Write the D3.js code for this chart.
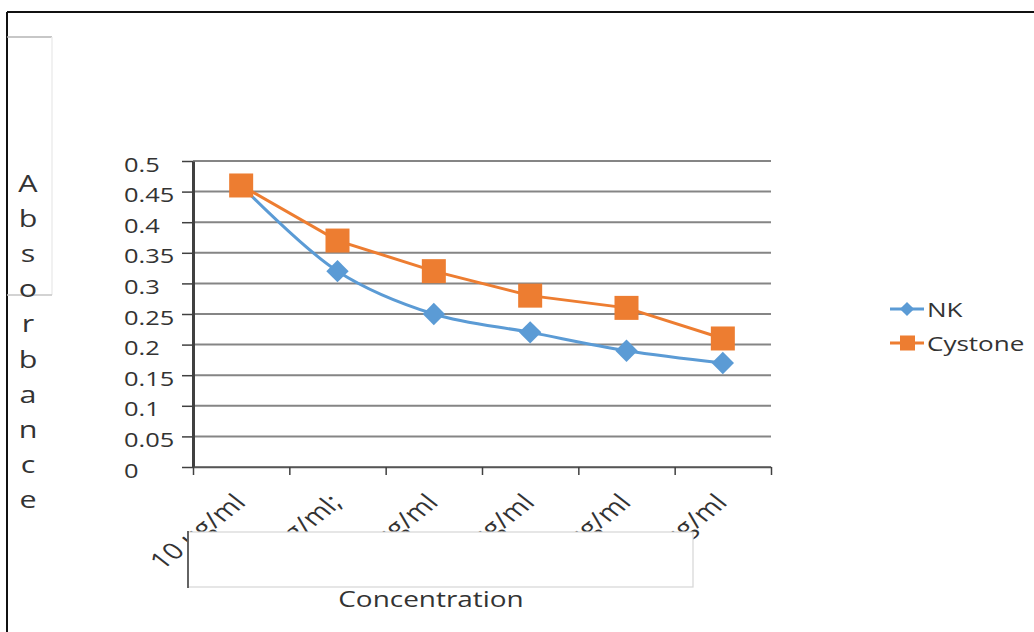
<!DOCTYPE html>
<html>
<head>
<meta charset="utf-8">
<script src="https://cdn.jsdelivr.net/npm/d3@7"></script>
<style>
  html, body { margin: 0; padding: 0; background: #fff; }
  svg { display: block; }
  text { font-family: "Open Sans", "DejaVu Sans", sans-serif; fill: #333; }
</style>
</head>
<body>
<svg id="chart" width="1034" height="632"></svg>
<script>
// Concentration levels on the x axis
const categories = ["10 µg/ml", "20 µg/ml;", "30 µg/ml", "40 µg/ml", "50 µg/ml", "60 µg/ml"];
// Absorbance readings per series
const nkValues = [0.46, 0.32, 0.25, 0.22, 0.19, 0.17];
const cystoneValues = [0.46, 0.37, 0.32, 0.28, 0.26, 0.21];
// Value axis ticks
const yTicks = [0, 0.05, 0.1, 0.15, 0.2, 0.25, 0.3, 0.35, 0.4, 0.45, 0.5];
const yTickLabels = ["0", "0.05", "0.1", "0.15", "0.2", "0.25", "0.3", "0.35", "0.4", "0.45", "0.5"];
const seriesNames = ["NK", "Cystone"];
const yTitle = "Absorbance";
const xTitle = "Concentration";

const SX = 1.27;            // horizontal text stretch
const BLUE = "#5B9BD5", ORANGE = "#ED7D31";

const svg = d3.select("#chart");
const plot = { left: 193, right: 771, top: 161, bottom: 467 };

const x = d3.scaleBand().domain(categories).range([plot.left, plot.right]);
const xEdge = d3.scaleLinear().domain([0, categories.length]).range([plot.left, plot.right]);
const y = d3.scaleLinear().domain([0, 0.5]).range([plot.bottom, plot.top]);
const cx = c => x(c) + x.bandwidth() / 2;

// outer frame (top and left edges)
svg.append("line").attr("x1", 7).attr("x2", 1034).attr("y1", 12).attr("y2", 12)
  .attr("stroke", "#111").attr("stroke-width", 2);
svg.append("line").attr("x1", 7).attr("x2", 7).attr("y1", 12).attr("y2", 632)
  .attr("stroke", "#111").attr("stroke-width", 2);

// light box behind the axis title
svg.append("line").attr("x1", 7).attr("x2", 52).attr("y1", 37).attr("y2", 37)
  .attr("stroke", "#b5b5b5").attr("stroke-width", 1.5);
svg.append("line").attr("x1", 52).attr("x2", 52).attr("y1", 37).attr("y2", 295)
  .attr("stroke", "#ececec").attr("stroke-width", 1.5);
svg.append("line").attr("x1", 7).attr("x2", 52).attr("y1", 295).attr("y2", 295)
  .attr("stroke", "#c4c4c4").attr("stroke-width", 1.5);

// horizontal gridlines
svg.append("g").selectAll("line").data(yTicks).join("line")
  .attr("x1", plot.left).attr("x2", plot.right)
  .attr("y1", d => y(d)).attr("y2", d => y(d))
  .attr("stroke", "#858585").attr("stroke-width", 2);

// y axis with ticks; labels left aligned and stretched
const yAxis = svg.append("g").attr("transform", `translate(${plot.left},0)`)
  .call(d3.axisLeft(y).tickValues(yTicks).tickSize(11).tickSizeOuter(0)
    .tickFormat((d, i) => yTickLabels[i]));
yAxis.select(".domain").attr("stroke", "#404040").attr("stroke-width", 3);
yAxis.selectAll(".tick line").attr("stroke", "#404040").attr("stroke-width", 1.5).attr("x2", -11);
yAxis.selectAll(".tick text")
  .attr("x", null).attr("dy", null)
  .attr("text-anchor", "start")
  .attr("font-size", 20)
  .attr("fill", "#333")
  .attr("transform", `translate(${124 - plot.left},10) scale(${SX},1)`);

// x axis with ticks at category boundaries
const xAxis = svg.append("g").attr("transform", `translate(0,${plot.bottom})`)
  .call(d3.axisBottom(xEdge).tickValues(d3.range(categories.length + 1)).tickSize(8)
    .tickSizeOuter(0).tickFormat(""));
xAxis.select(".domain").attr("stroke", "#555").attr("stroke-width", 1.5);
xAxis.selectAll(".tick line").attr("stroke", "#404040").attr("stroke-width", 1.5);

// rotated category labels (stretched like the other text)
svg.append("g").selectAll("text").data(categories).join("text")
  .attr("text-anchor", "end")
  .attr("font-size", 23)
  .attr("transform", d => `translate(${cx(d) + 6},504) scale(${SX},1) rotate(-45)`)
  .text(d => d);

// series
const nkData = categories.map((c, i) => ({ c, v: nkValues[i] }));
const cyData = categories.map((c, i) => ({ c, v: cystoneValues[i] }));

svg.append("path").datum(nkData)
  .attr("fill", "none").attr("stroke", BLUE).attr("stroke-width", 3)
  .attr("d", d3.line().x(d => cx(d.c)).y(d => y(d.v)).curve(d3.curveCatmullRom.alpha(0.5)));
svg.append("g").selectAll("path").data(nkData).join("path")
  .attr("d", d3.symbol(d3.symbolSquare, 250))
  .attr("transform", d => `translate(${cx(d.c)},${y(d.v)}) rotate(45)`)
  .attr("fill", BLUE);

svg.append("path").datum(cyData)
  .attr("fill", "none").attr("stroke", ORANGE).attr("stroke-width", 3)
  .attr("d", d3.line().x(d => cx(d.c)).y(d => y(d.v)));
svg.append("g").selectAll("rect").data(cyData).join("rect")
  .attr("x", d => cx(d.c) - 12).attr("y", d => y(d.v) - 12)
  .attr("width", 24).attr("height", 24)
  .attr("fill", ORANGE);

// white box over the lower label area
svg.append("rect").attr("x", 188).attr("y", 532).attr("width", 505).attr("height", 55)
  .attr("fill", "#fff").attr("stroke", "#d6d6d6").attr("stroke-width", 1.2);
svg.append("line").attr("x1", 188).attr("x2", 188).attr("y1", 531).attr("y2", 588)
  .attr("stroke", "#555").attr("stroke-width", 1.8);

// x axis title
svg.append("text").attr("text-anchor", "middle").attr("font-size", 22)
  .attr("transform", `translate(431,607) scale(${SX},1)`)
  .text(xTitle);

// y axis title, one letter per line
svg.append("g").selectAll("text").data(yTitle.split("")).join("text")
  .attr("text-anchor", "middle").attr("font-size", 24)
  .attr("transform", (d, i) => `translate(28,${192 + i * 35.1}) scale(${SX},1)`)
  .text(d => d);

// legend
const legend = svg.append("g");
const legendRows = [
  { name: seriesNames[0], color: BLUE, y: 309, shape: "diamond" },
  { name: seriesNames[1], color: ORANGE, y: 343, shape: "square" }
];
legendRows.forEach(r => {
  legend.append("line").attr("x1", 890).attr("x2", 924).attr("y1", r.y).attr("y2", r.y)
    .attr("stroke", r.color).attr("stroke-width", 3);
  if (r.shape === "diamond") {
    legend.append("path").attr("d", d3.symbol(d3.symbolSquare, 100))
      .attr("transform", `translate(907,${r.y}) rotate(45)`).attr("fill", r.color);
  } else {
    legend.append("rect").attr("x", 900).attr("y", r.y - 7.5).attr("width", 15).attr("height", 15)
      .attr("fill", r.color);
  }
  legend.append("text").attr("font-size", 20.5)
    .attr("transform", `translate(927,${r.y + 8}) scale(${SX},1)`)
    .text(r.name);
});
</script>
</body>
</html>
